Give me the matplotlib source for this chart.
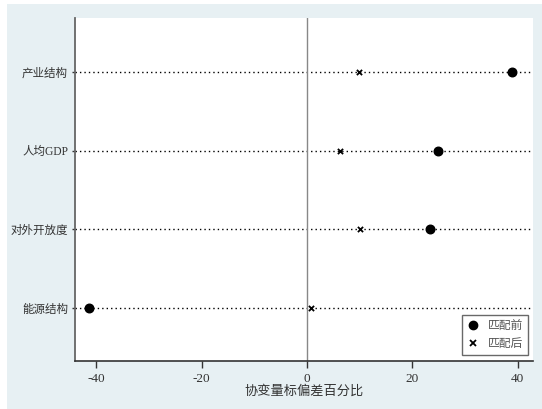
import matplotlib
matplotlib.use("Agg")
import matplotlib.pyplot as plt
from matplotlib.patches import Rectangle
from matplotlib.lines import Line2D

plt.rcParams['font.family'] = ['Liberation Serif', 'Noto Sans CJK SC', 'DejaVu Sans']

categories = ["能源结构", "对外开放度", "人均GDP", "产业结构"]
before = [-41.4, 23.3, 24.9, 38.9]
after = [0.8, 10.1, 6.3, 9.9]
xticks = [-40, -20, 0, 20, 40]
legend_labels = ["匹配前", "匹配后"]
xlabel = "协变量标偏差百分比"

W, H = 542, 409
fig = plt.figure(figsize=(W / 100, H / 100), dpi=100)
fig.patch.set_facecolor("white")
bg = "#e7f0f3"
fig.patches.append(Rectangle((7 / W, 0), 1 - 7 / W, 1 - 4 / H, transform=fig.transFigure,
                             facecolor=bg, edgecolor="none", zorder=-10))

ax = fig.add_axes([75 / W, 1 - 361 / H, (533 - 75) / W, (361 - 18) / H])
ax.set_facecolor("white")

ypos = list(range(1, len(categories) + 1))
for y in ypos:
    ax.axhline(y, color="black", linestyle=(0, (1, 2.2)), linewidth=1.0, zorder=1)
ax.axvline(0, color="#888888", linewidth=1.0, zorder=1)

ax.scatter(before, ypos, marker="o", s=38, color="black", zorder=3, label=legend_labels[0])
ax.scatter(after, ypos, marker="x", s=14, color="black", linewidths=1.3, zorder=3, label=legend_labels[1])

ax.set_xlim(-44.05, 42.9)
ax.set_ylim(0.326, 4.686)
ax.set_yticks(ypos)
ax.set_yticklabels(categories, fontsize=8.3, color="#333333")
ax.set_xticks(xticks)
ax.set_xticklabels([str(t) for t in xticks], fontsize=9.5, color="#333333")
ax.tick_params(axis="x", length=5, width=1, color="#333333", pad=4)
ax.tick_params(axis="y", length=2, width=1, color="#333333", pad=3)
ax.set_xlabel(xlabel, fontsize=9.5, color="#333333", labelpad=0)

for s in ["top", "right"]:
    ax.spines[s].set_visible(False)
ax.spines["left"].set_color("#666666")
ax.spines["left"].set_linewidth(1.3)
ax.spines["bottom"].set_color("#333333")
ax.spines["bottom"].set_linewidth(1.2)

handles = [Line2D([], [], marker="o", linestyle="none", color="black", markersize=6),
           Line2D([], [], marker="x", linestyle="none", color="black", markersize=4, markeredgewidth=1.3)]
leg = ax.legend(handles, legend_labels, loc="lower right", bbox_to_anchor=(0.989, 0.0175),
                frameon=True, fancybox=False, edgecolor="#444444", fontsize=8.5,
                handletextpad=0.7, borderpad=0.45, labelspacing=0.45, handlelength=1.0,
                borderaxespad=0)
for t in leg.get_texts():
    t.set_color("#555555")
leg.get_frame().set_linewidth(1.0)

fig.savefig("out.png", dpi=100, facecolor=fig.get_facecolor())
